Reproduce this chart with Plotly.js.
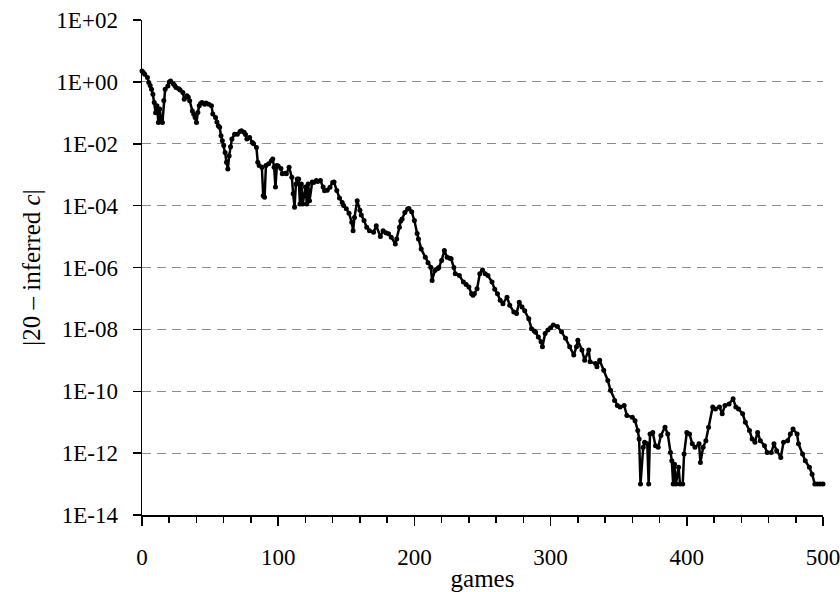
<!DOCTYPE html>
<html>
<head>
<meta charset="utf-8">
<script src="https://cdn.plot.ly/plotly-3.0.1.min.js"></script>
<style>html,body{margin:0;padding:0;background:#fff;}#chart{width:840px;height:592px;}</style>
</head>
<body>
<div id="chart"></div>
<script>
// games played
const games = [0,1,2,4,5,6,7,8,9,10,11,12,13,14,15,16,17,19,20,21,23,24,25,27,28,30,31,33,34,35,37,38,39,40,41,42,43,44,46,47,49,51,52,54,55,56,57,58,59,60,61,62,63,64,65,66,68,70,72,73,75,76,77,79,81,82,84,85,86,88,89,90,91,93,95,96,97,98,99,100,102,103,105,106,108,110,111,112,113,114,115,116,117,118,120,121,122,123,125,126,128,129,131,133,134,136,138,140,141,143,145,147,148,150,152,154,155,156,158,160,161,163,165,167,170,172,175,177,179,181,183,186,187,189,190,191,193,195,196,198,200,202,203,205,208,210,212,213,215,217,218,220,222,224,226,227,229,230,233,236,238,240,242,243,244,246,248,250,252,254,257,259,261,263,265,268,270,273,275,277,279,281,284,286,288,289,291,293,294,296,298,300,302,305,308,311,314,317,319,320,323,325,328,329,333,334,336,339,342,344,347,349,351,354,356,360,362,364,365,366,368,369,371,372,373,375,377,379,381,384,386,388,389,390,391,392,394,395,397,398,400,402,404,406,409,410,412,414,416,419,421,424,426,428,431,434,436,438,441,443,446,448,450,452,454,457,459,462,464,466,469,471,474,476,478,481,482,485,487,490,492,494,496,498,500];
// log10 of |20 - inferred c|
const log10Diff = [0.35,0.3,0.25,0.14,-0.02,-0.12,-0.24,-0.4,-0.67,-1.0,-0.77,-1.31,-0.88,-1.2,-1.31,-0.6,-0.24,-0.13,0.0,0.03,-0.06,-0.12,-0.18,-0.22,-0.26,-0.34,-0.56,-0.45,-0.5,-0.61,-0.94,-1.05,-1.15,-1.31,-0.99,-0.77,-0.7,-0.67,-0.72,-0.68,-0.72,-0.77,-1.04,-1.15,-1.3,-1.42,-1.47,-1.74,-1.9,-2.06,-2.28,-2.6,-2.82,-2.39,-2.1,-1.85,-1.69,-1.69,-1.6,-1.58,-1.63,-1.7,-1.85,-1.8,-1.96,-2.0,-2.12,-2.6,-2.7,-2.76,-3.68,-3.73,-2.7,-2.65,-2.55,-2.49,-2.76,-3.4,-2.7,-2.72,-2.8,-2.97,-2.95,-2.97,-2.76,-3.08,-3.62,-4.05,-3.3,-3.14,-3.14,-3.95,-3.3,-3.95,-3.4,-3.95,-3.3,-3.84,-3.24,-3.25,-3.19,-3.22,-3.19,-3.4,-3.52,-3.5,-3.41,-3.25,-3.24,-3.51,-3.75,-3.9,-4.0,-4.1,-4.25,-4.54,-4.81,-4.38,-3.84,-4.15,-4.3,-4.48,-4.7,-4.81,-4.86,-4.65,-5.0,-4.81,-4.88,-4.91,-5.02,-5.24,-5.08,-4.7,-4.5,-4.43,-4.22,-4.11,-4.09,-4.2,-4.48,-4.9,-5.08,-5.4,-5.67,-5.85,-5.99,-6.42,-6.1,-6.04,-6.0,-5.77,-5.45,-5.67,-5.7,-5.72,-6.0,-6.2,-6.26,-6.47,-6.55,-6.63,-6.85,-6.9,-6.85,-6.69,-6.2,-6.08,-6.2,-6.26,-6.47,-6.7,-6.85,-7.06,-7.17,-6.96,-7.22,-7.44,-7.49,-7.12,-7.28,-7.4,-7.66,-7.98,-8.05,-8.09,-8.25,-8.4,-8.56,-8.13,-8.02,-7.95,-7.86,-7.91,-8.08,-8.29,-8.56,-8.83,-8.56,-8.35,-8.67,-9.0,-8.67,-9.05,-9.1,-9.21,-9.0,-9.32,-9.65,-9.97,-10.3,-10.46,-10.51,-10.46,-10.78,-10.84,-10.95,-11.27,-11.54,-13.0,-11.81,-11.65,-11.7,-13.0,-11.38,-11.33,-11.76,-11.81,-11.43,-11.16,-11.38,-11.98,-12.25,-13.0,-12.36,-13.0,-12.46,-13.0,-13.0,-12.03,-11.33,-11.38,-11.7,-11.81,-11.7,-12.3,-11.81,-11.6,-11.16,-10.51,-10.57,-10.51,-10.73,-10.46,-10.41,-10.24,-10.51,-10.57,-10.73,-11.0,-11.27,-11.54,-11.65,-11.33,-11.6,-11.76,-11.98,-11.98,-11.7,-11.92,-12.14,-11.65,-11.6,-11.38,-11.22,-11.38,-11.7,-12.03,-12.25,-12.46,-12.68,-13.0,-13.0,-13.0,-13.0];
const xTickVals = [0,100,200,300,400,500];
const yTickVals = [1e2,1e0,1e-2,1e-4,1e-6,1e-8,1e-10,1e-12,1e-14];
const yTickText = ['1E+02','1E+00','1E-02','1E-04','1E-06','1E-08','1E-10','1E-12','1E-14'];

const diff = log10Diff.map(v => Math.pow(10, v));

const trace = {
  x: games, y: diff, type: 'scatter', mode: 'lines+markers',
  line: {color: '#000', width: 2.5},
  marker: {color: '#000', size: 5, symbol: 'circle'},
  hoverinfo: 'x+y', cliponaxis: false
};

const serif = '"Liberation Serif", "Times New Roman", serif';
const tickFont = {family: serif, size: 23, color: '#000'};
const titleFont = {family: serif, size: 25, color: '#000'};

const layout = {
  width: 840, height: 592,
  margin: {l: 142, r: 17, t: 20, b: 77},
  paper_bgcolor: '#fff', plot_bgcolor: '#fff',
  font: tickFont,
  showlegend: false,
  xaxis: {
    range: [0, 500], tickvals: xTickVals, ticktext: xTickVals.map(String),
    tickfont: tickFont, ticklabeloverflow: 'allow',
    ticks: 'outside', ticklen: 9, tickwidth: 1.5, tickcolor: '#000',
    minor: {tick0: 0, dtick: 20, ticks: 'outside', ticklen: 6, tickwidth: 1.5, tickcolor: '#000', showgrid: false},
    showline: true, linecolor: '#000', linewidth: 1.5,
    showgrid: false, zeroline: false, automargin: false,
    ticklabelstandoff: 12,
    title: {text: 'games', font: titleFont, standoff: 0}
  },
  yaxis: {
    type: 'log', range: [-14, 2], tickvals: yTickVals, ticktext: yTickText,
    tickfont: tickFont, ticklabeloverflow: 'allow',
    ticks: 'outside', ticklen: 8, tickwidth: 1.5, tickcolor: '#000',
    showline: true, linecolor: '#000', linewidth: 1.5,
    showgrid: true, gridcolor: '#8c8c8c', gridwidth: 1, griddash: '9px,6px',
    zeroline: false, automargin: false,
    ticklabelstandoff: 10,
    title: {text: '|20 \u2013 inferred <i>c</i>|', font: titleFont, standoff: 8}
  }
};

Plotly.newPlot('chart', [trace], layout, {staticPlot: true, displayModeBar: false});
</script>
</body>
</html>
